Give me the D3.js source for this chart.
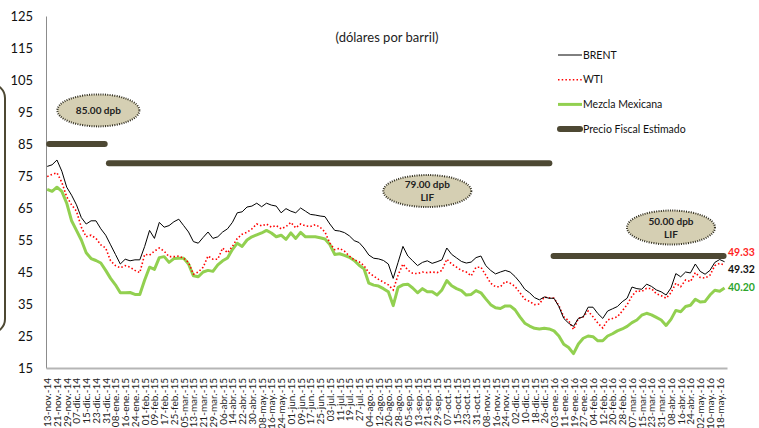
<!DOCTYPE html>
<html>
<head>
<meta charset="utf-8">
<script src="https://cdn.jsdelivr.net/npm/d3@7"></script>
<style>
  body { margin: 0; background: #fff; }
  svg { display: block; font-family: Lato, "Liberation Sans", sans-serif; }
</style>
</head>
<body>
<div id="chart"></div>
<script>
// DATA
////////////////////////////
// series sampled every 4 days from 13-nov-14 (values read off the picture, dpb)
var inicio = new Date(2014, 10, 13);
var pasoDias = 4;

var brent = [
  78, 78.5, 80, 76.5, 71.5, 69, 66, 62, 60, 61,
  61, 58.5, 56.5, 53.5, 50.5, 47.5, 49, 48.5, 48.8, 48.8,
  53, 58, 55.5, 60.5, 59, 59.5, 60.7, 61.5, 59.5, 57.5,
  54.5, 54, 55.8, 57.5, 55.5, 56, 57.5, 58.5, 60.5, 63.5,
  63.8, 65.3, 65.6, 66.5, 65.4, 66.5, 65.9, 65.6, 63.5, 64.8,
  64, 63.5, 65, 64, 63, 62.8, 62.5, 62.3, 60, 58,
  57.8, 57.3, 56.3, 54.8, 54.2, 52.5, 50.3, 49.3, 49.1, 48.6,
  47.5, 43, 48, 53, 50, 48.5, 47, 48, 48.5, 47.7,
  48.2, 48.8, 52.5, 50.5, 49.4, 48.3, 47.8, 48.1, 49.5, 50,
  47, 45.5, 44.4, 45, 45.5, 45, 43.6, 41.8, 39.6, 38.5,
  37, 36.3, 37.2, 36.8, 36.8, 34.2, 30.5, 29, 28, 30.5,
  31, 34, 34, 32, 30.5, 32.8, 33.5, 34.2, 35.7, 36.8,
  40.3, 39.8, 39.6, 41.2, 40.5, 39.4, 38.8, 37.8, 40, 44.5,
  43.5, 45, 44.7, 47.5, 45.2, 44.3, 45.5, 48, 48.9, 48.2
];

var wti = [
  74.8, 75.5, 76, 73, 68.5, 66, 64, 59, 56, 56.5,
  55.5, 53.5, 52.5, 48.5, 47, 46.3, 47, 46.5, 45.5, 44.8,
  50.5, 50.3, 51.5, 52.5, 51.5, 49.8, 49.8, 50, 49.3, 48,
  44.3, 45, 46.5, 50, 49, 49, 52.5, 51, 53, 55.5,
  56.8, 57.4, 58.5, 60, 59.4, 60, 59, 59.5, 58.5, 59.2,
  60.5, 58.8, 60, 59.4, 59.2, 59.8, 59, 57.5, 54, 52,
  52.4, 51.5, 50, 48.8, 48.2, 47, 44.8, 43.7, 42.7, 41.8,
  41, 39.4, 44, 47.5, 45.6, 44.6, 44.5, 45, 44.8, 45,
  44.8, 45.5, 49, 47.5, 46.5, 45.5, 45, 43.8, 46.5, 46.5,
  44, 41.5, 40.4, 40.4, 42, 41.5, 40.5, 38.5, 36.5, 35.8,
  34.8, 35, 37.2, 36.9, 36.8, 34.5, 31, 29.8, 27, 30.5,
  31, 32.8, 31, 29, 27.5, 30, 30.5, 31, 32.8, 34.8,
  37.5, 39.2, 38.9, 39.9, 39.8, 38.2, 37.6, 36.8, 38.5, 41.5,
  40.4, 42.5, 42, 44.8, 43.3, 43.1, 44, 47, 47.7, 47.2
];

var mezcla = [
  70.8, 70.2, 71.5, 70.2, 66.5, 61, 58, 55, 51, 49.2,
  48.6, 47.8, 45.5, 43, 41, 38.5, 38.5, 38.6, 38, 38,
  42.5, 46.5, 45.8, 49.5, 49.8, 48, 49.2, 49.3, 49.3, 47.5,
  43.8, 43.5, 45, 45.5, 45.2, 47.2, 48.5, 49.4, 52, 54,
  53, 55, 56, 56.6, 57.2, 58, 57.2, 56, 56.5, 55.2,
  57.2, 55.5, 57.4, 56, 56, 56, 55.7, 55.3, 53.6, 50.5,
  50.7, 50.2, 49.6, 48.6, 47.1, 46, 41.5, 40.9, 40.6, 39.8,
  38.8, 34.5, 40.2, 41, 41.2, 40, 38.5, 39.8, 38.8, 38.8,
  37.8, 39.4, 42.3, 40.7, 39.8, 39.2, 37.8, 38, 39.2, 38.5,
  36.6, 34.8, 33.8, 33.6, 34.4, 34.4, 33.2, 31, 29, 28.1,
  27.4, 27.2, 27.4, 27.2, 26.6, 25, 22.4, 21.4, 19.5, 22.5,
  24.3, 25, 24.8, 23.5, 23.5, 25, 25.7, 26.6, 27.2, 28,
  29.2, 30, 31.5, 32.1, 31.6, 30.8, 30, 28.3, 30.2, 33,
  32.6, 34.2, 34.6, 36.5, 35.6, 35.8, 37.8, 39.3, 39, 40
];

// precio fiscal estimado (LIF) by period
var fiscalValor  = [85, 79, 50];
var fiscalDesde  = ["2014-11-13", "2015-01-01", "2016-01-01"];
var fiscalHasta  = ["2014-12-31", "2015-12-31", "2016-05-22"];
var fiscalTexto  = [["85.00 dpb"], ["79.00 dpb", "LIF"], ["50.00 dpb", "LIF"]];

// last observed values shown at the right end
var ultimos = ["49.33", "49.32", "40.20"];

// x tick labels, one every 8 days from 13-nov-14
var etiquetasX = [
  "13-nov.-14","21-nov.-14","29-nov.-14","07-dic.-14","15-dic.-14","23-dic.-14","31-dic.-14",
  "08-ene.-15","16-ene.-15","24-ene.-15","01-feb.-15","09-feb.-15","17-feb.-15","25-feb.-15",
  "05-mar.-15","13-mar.-15","21-mar.-15","29-mar.-15","06-abr.-15","14-abr.-15","22-abr.-15",
  "30-abr.-15","08-may.-15","16-may.-15","24-may.-15","01-jun.-15","09-jun.-15","17-jun.-15",
  "25-jun.-15","03-jul.-15","11-jul.-15","19-jul.-15","27-jul.-15","04-ago.-15","12-ago.-15",
  "20-ago.-15","28-ago.-15","05-sep.-15","13-sep.-15","21-sep.-15","29-sep.-15","07-oct.-15",
  "15-oct.-15","23-oct.-15","31-oct.-15","08-nov.-15","16-nov.-15","24-nov.-15","02-dic.-15",
  "10-dic.-15","18-dic.-15","26-dic.-15","03-ene.-16","11-ene.-16","19-ene.-16","27-ene.-16",
  "04-feb.-16","12-feb.-16","20-feb.-16","28-feb.-16","07-mar.-16","15-mar.-16","23-mar.-16",
  "31-mar.-16","08-abr.-16","16-abr.-16","24-abr.-16","02-may.-16","10-may.-16","18-may.-16"
];
var ticksY = [15, 25, 35, 45, 55, 65, 75, 85, 95, 105, 115, 125];


// SETUP
////////////////////////////
var width = 759,
    height = 428;

var svg = d3.select("#chart").append("svg")
    .attr("width", width)
    .attr("height", height);

var parse = d3.timeParse("%Y-%m-%d");

var x = d3.scaleTime()
    .domain([new Date(2014, 10, 12), new Date(2016, 4, 24)])
    .range([46, 727]);

var y = d3.scaleLinear()
    .domain([15, 125])
    .range([368, 16]);

var fechas = brent.map(function(d, i) { return d3.timeDay.offset(inicio, i * pasoDias); });
var fechasTick = etiquetasX.map(function(d, i) { return d3.timeDay.offset(inicio, i * 8); });

var oliva = "#4d4833";

// frame piece at the far left (edge of a rounded box)
svg.append("rect")
    .attr("x", -60).attr("y", 84)
    .attr("width", 65).attr("height", 249)
    .attr("rx", 14)
    .attr("fill", "none")
    .attr("stroke", oliva)
    .attr("stroke-width", 2);

// AXES
////////////////////////////
var ejeY = svg.append("g")
    .attr("transform", "translate(46,0)")
    .call(d3.axisLeft(y).tickValues(ticksY).tickSize(0).tickPadding(13));
ejeY.select(".domain").attr("stroke", "#8c8c8c");
ejeY.selectAll("text")
    .attr("font-size", "13px")
    .attr("font-family", "Lato, sans-serif")
    .attr("fill", "#111");

var ejeX = svg.append("g")
    .attr("transform", "translate(0,368)")
    .call(d3.axisBottom(x).tickValues(fechasTick).tickSize(0)
      .tickFormat(function(d, i) { return etiquetasX[i]; }));
ejeX.select(".domain").attr("stroke", "#b5b5b5").attr("stroke-width", 2);
ejeX.selectAll("text")
    .attr("font-size", "10px")
    .attr("font-family", "Lato, sans-serif")
    .attr("fill", "#222")
    .attr("text-anchor", "end")
    .attr("transform", "rotate(-90)")
    .attr("x", -10)
    .attr("y", 0)
    .attr("dy", "0.35em");

// title
svg.append("text")
    .attr("x", 387).attr("y", 42)
    .attr("text-anchor", "middle")
    .attr("font-size", "13px")
    .attr("fill", "#222")
    .text("(dólares por barril)");

// FISCAL PRICE
////////////////////////////
svg.append("clipPath").attr("id", "plot")
  .append("rect").attr("x", 46).attr("y", 0).attr("width", 700).attr("height", 368);

svg.append("g").attr("clip-path", "url(#plot)")
  .selectAll("line.fiscal")
  .data(fiscalValor).enter().append("line")
    .attr("class", "fiscal")
    .attr("x1", function(d, i) { return x(parse(fiscalDesde[i])) + 2; })
    .attr("x2", function(d, i) { return x(parse(fiscalHasta[i])) - 1; })
    .attr("y1", function(d) { return y(d); })
    .attr("y2", function(d) { return y(d); })
    .attr("stroke", oliva)
    .attr("stroke-width", 6)
    .attr("stroke-linecap", "round");

// SERIES
////////////////////////////
function linea(valores) {
  return d3.line()
    .x(function(d, i) { return x(fechas[i]); })
    .y(function(d) { return y(d); })(valores);
}

svg.append("path")
    .attr("d", linea(mezcla))
    .attr("fill", "none")
    .attr("stroke", "#92d050")
    .attr("stroke-width", 3)
    .attr("stroke-linejoin", "round");

svg.append("path")
    .attr("d", linea(wti))
    .attr("fill", "none")
    .attr("stroke", "#ff0000")
    .attr("stroke-width", 1.6)
    .attr("stroke-dasharray", "1.5,2.2");

svg.append("path")
    .attr("d", linea(brent))
    .attr("fill", "none")
    .attr("stroke", "#000")
    .attr("stroke-width", 1);

// OVALS with fiscal price text
////////////////////////////
var ovalos = [
  {fecha: "2014-12-25", valor: 95.5, rx: 41, ry: 16},
  {fecha: "2015-09-21", valor: 70.3, rx: 44, ry: 16},
  {fecha: "2016-04-08", valor: 58.9, rx: 44, ry: 17}
];

var gOval = svg.selectAll("g.ovalo")
  .data(ovalos).enter().append("g")
    .attr("class", "ovalo")
    .attr("transform", function(d) { return "translate(" + x(parse(d.fecha)) + "," + y(d.valor) + ")"; });

gOval.append("ellipse")
    .attr("rx", function(d) { return d.rx; })
    .attr("ry", function(d) { return d.ry; })
    .attr("fill", "#d5cfb3")
    .attr("stroke", "#2f2c1e")
    .attr("stroke-width", 2)
    .attr("stroke-dasharray", "1,1.3");

gOval.each(function(d, i) {
  var lineas = fiscalTexto[i];
  var g = d3.select(this);
  lineas.forEach(function(t, j) {
    g.append("text")
      .attr("text-anchor", "middle")
      .attr("y", (j - (lineas.length - 1) / 2) * 13)
      .attr("dy", "0.35em")
      .attr("font-size", "10px")
      .attr("font-weight", "bold")
      .attr("fill", "#222")
      .text(t);
  });
});

// LEGEND
////////////////////////////
var leyenda = [
  {nombre: "BRENT", color: "#000", ancho: 1, guion: null},
  {nombre: "WTI", color: "#ff0000", ancho: 1.6, guion: "1.5,2.2"},
  {nombre: "Mezcla Mexicana", color: "#92d050", ancho: 3, guion: null},
  {nombre: "Precio Fiscal Estimado", color: oliva, ancho: 6, guion: null}
];

var gLey = svg.selectAll("g.ley")
  .data(leyenda).enter().append("g")
    .attr("class", "ley")
    .attr("transform", function(d, i) { return "translate(558," + (55 + i * 24.7) + ")"; });

gLey.append("line")
    .attr("x1", function(d) { return d.ancho > 4 ? 2 : 0; })
    .attr("x2", function(d) { return d.ancho > 4 ? 22 : 24; })
    .attr("stroke", function(d) { return d.color; })
    .attr("stroke-width", function(d) { return d.ancho; })
    .attr("stroke-dasharray", function(d) { return d.guion; })
    .attr("stroke-linecap", function(d) { return d.ancho > 4 ? "round" : "butt"; });

gLey.append("text")
    .attr("x", 25)
    .attr("dy", "0.35em")
    .attr("font-size", "10.5px")
    .attr("fill", "#111")
    .text(function(d) { return d.nombre; });

// END LABELS
////////////////////////////
var colores = ["#ff1f1f", "#111", "#2da52d"];
var posY = [252, 269.5, 287];
svg.selectAll("text.ultimo")
  .data(ultimos).enter().append("text")
    .attr("class", "ultimo")
    .attr("x", 728)
    .attr("y", function(d, i) { return posY[i]; })
    .attr("dy", "0.35em")
    .attr("font-size", "10.5px")
    .attr("font-weight", "bold")
    .attr("fill", function(d, i) { return colores[i]; })
    .text(function(d) { return d; });
</script>
</body>
</html>
